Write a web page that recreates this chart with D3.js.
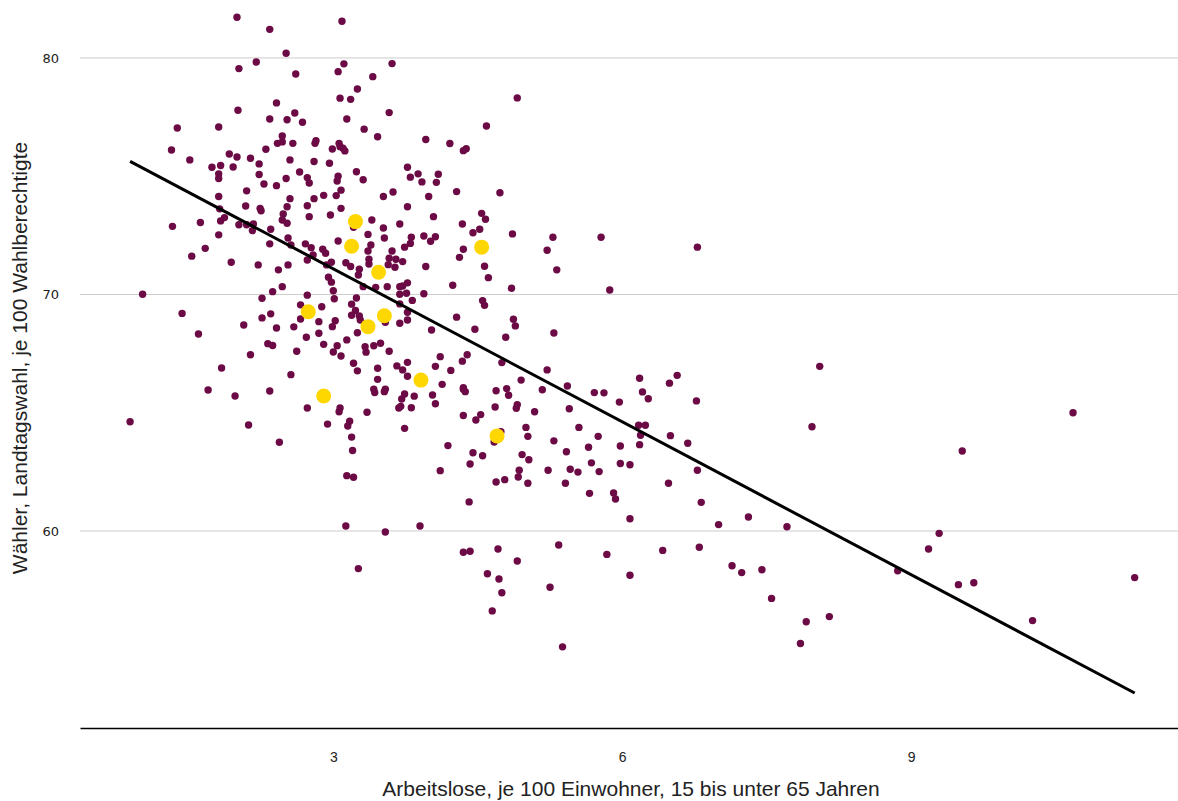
<!DOCTYPE html>
<html><head><meta charset="utf-8">
<script src="https://cdn.jsdelivr.net/npm/d3@7"></script>
<style>body{margin:0;background:#fff}</style>
</head><body>
<svg id="chart" width="1178" height="801"></svg>
<script>
const xTicks = [3, 6, 9];
const yTicks = [60, 70, 80];
const xTitle = "Arbeitslose, je 100 Einwohner, 15 bis unter 65 Jahren";
const yTitle = "Wähler, Landtagswahl, je 100 Wahlberechtigte";

// Arbeitslose je 100 Einwohner (x) for each municipality
const unemployment = [
2.00,2.34,2.51,2.20,2.02,2.61,2.41,2.01,2.60,2.34,
2.52,2.68,1.38,1.81,2.47,2.42,2.47,2.58,1.32,2.30,
1.92,2.00,2.14,1.51,2.55,2.23,1.74,1.83,1.96,2.65,
1.81,1.81,2.23,2.51,2.73,2.75,2.28,2.41,2.10,1.81,
2.55,3.09,3.11,3.61,3.05,3.41,3.25,3.07,3.18,3.58,
3.14,4.59,3.32,3.46,3.96,2.82,2.81,4.21,3.06,3.07,
2.99,3.10,3.12,4.35,4.38,2.80,2.96,3.77,3.88,4.09,
3.24,3.05,3.04,3.31,3.80,3.92,4.07,3.08,2.90,3.03,
2.80,3.52,3.62,3.99,4.28,4.73,4.91,2.09,2.24,2.25,
2.52,2.73,2.48,2.75,1.82,1.33,1.62,1.83,1.87,2.02,
2.10,2.17,2.16,2.35,2.47,2.52,1.81,2.53,2.34,2.56,
2.71,1.67,1.53,2.73,1.94,2.22,2.53,2.43,2.47,2.37,
1.02,2.26,2.73,2.66,1.43,2.35,2.26,2.66,2.07,2.41,
2.59,1.60,2.72,2.32,2.37,2.62,2.14,1.84,2.56,1.70,
2.34,3.08,3.77,2.97,3.40,3.69,4.04,4.34,4.54,4.58,
4.45,4.52,3.52,3.21,3.36,3.53,3.81,3.94,4.06,4.01,
3.05,2.77,3.39,3.36,3.80,3.74,2.89,2.92,2.79,3.61,
3.58,3.65,3.72,4.35,4.31,2.98,2.93,3.13,3.18,3.37,
3.37,3.57,3.64,3.96,3.27,3.26,4.57,4.61,2.95,2.98,
3.77,3.72,4.24,3.31,3.44,3.56,3.69,3.00,3.01,3.69,
3.76,3.94,3.82,3.24,3.19,2.88,3.23,3.69,3.77,4.55,
4.57,3.19,3.27,3.28,4.28,3.54,3.77,3.69,2.85,3.02,
2.99,4.02,4.47,2.85,3.25,3.14,2.90,3.04,3.33,3.42,
3.49,3.34,3.00,3.08,3.58,4.11,4.39,4.34,3.21,3.25,
3.46,3.66,3.77,3.72,4.06,4.22,3.46,3.77,4.13,4.35,
3.42,3.54,2.73,3.07,3.06,2.94,3.17,3.15,3.19,3.20,
3.14,3.21,3.35,3.43,3.53,3.74,3.71,3.70,3.68,3.81,
3.84,4.03,4.06,4.35,4.37,4.69,4.68,4.35,4.48,4.53,
3.74,4.19,4.45,4.55,4.42,4.11,4.67,4.69,4.41,3.13,
3.54,3.90,4.35,4.42,4.71,3.26,4.60,4.72,1.98,0.89,
2.12,2.44,4.86,5.28,5.78,6.78,5.22,5.32,4.85,5.87,
4.87,4.89,4.79,5.29,4.75,5.22,4.95,4.80,4.82,5.17,
5.43,5.71,5.81,5.97,6.18,6.49,6.57,6.21,6.27,6.77,
4.91,4.90,5.09,5.45,6.17,6.24,5.00,5.55,4.74,5.02,
5.29,5.42,5.65,5.75,5.98,6.19,6.18,6.50,6.68,4.96,
5.03,4.93,4.92,4.78,5.02,5.23,5.46,5.54,5.68,5.76,
5.98,6.08,5.41,5.66,5.91,5.93,6.08,6.48,6.78,6.82,
5.34,4.91,5.84,6.42,6.80,6.08,4.75,5.25,4.65,5.38,
8.05,7.97,10.68,9.53,7.00,7.31,7.71,9.29,9.18,7.14,
7.24,7.45,7.55,8.86,9.49,9.65,11.32,7.91,8.15,7.85,
10.26
];

// Wähler je 100 Wahlberechtigte (y), same order
const turnout = [
81.72,81.21,80.20,79.83,79.55,79.32,78.10,77.79,77.67,77.42,
77.39,77.28,77.04,77.08,76.70,76.39,76.45,76.39,76.11,76.14,
75.94,75.81,75.76,75.69,75.69,75.52,75.38,75.45,75.39,75.18,
75.10,74.90,75.07,74.90,74.94,74.71,74.67,74.60,74.38,74.14,
74.05,81.55,79.75,79.76,79.42,79.21,78.69,78.30,78.25,77.69,
77.42,77.12,76.99,76.67,76.55,76.50,76.39,76.38,76.39,76.25,
76.15,76.18,76.07,76.08,76.16,75.62,75.55,75.38,75.10,75.08,
75.19,75.00,74.80,74.85,74.96,74.76,74.74,74.41,74.19,74.18,
74.05,74.14,74.33,74.14,74.35,74.30,78.31,73.74,73.64,73.54,
73.71,73.75,73.40,73.29,73.62,72.88,73.04,73.11,73.25,72.95,
72.95,72.98,72.70,72.76,73.15,73.01,72.52,72.39,72.14,72.09,
72.14,71.95,71.62,71.46,71.36,71.25,71.25,71.04,70.33,70.12,
70.01,69.84,69.97,69.56,69.20,69.18,69.01,68.96,68.71,68.58,
68.63,68.33,68.19,67.92,67.84,67.60,67.45,66.89,66.61,65.96,
65.92,73.64,73.71,73.36,73.15,72.98,73.29,72.98,73.43,73.18,
72.61,72.76,72.81,72.84,72.54,72.39,72.42,72.47,72.44,72.25,
72.26,71.98,72.09,71.84,72.16,72.00,71.91,71.74,71.67,71.84,
71.53,71.49,71.39,71.91,71.57,71.36,71.25,71.34,71.18,71.49,
71.29,71.26,71.15,71.18,71.07,70.82,71.19,70.71,70.73,70.52,
70.49,70.36,70.39,70.33,70.30,70.33,70.33,70.16,69.82,70.01,
70.05,70.03,69.75,69.85,69.59,69.48,69.32,69.60,69.25,69.74,
69.54,69.12,69.09,68.92,69.04,68.82,68.92,68.78,68.85,68.89,
68.64,68.50,68.53,68.36,68.38,68.08,67.89,67.83,67.79,67.83,
67.94,67.56,67.57,67.40,67.60,67.37,67.45,67.18,67.09,66.77,
66.88,66.98,67.13,66.81,66.96,66.79,66.41,66.54,66.20,66.06,
65.99,65.99,65.20,65.20,65.04,64.52,64.64,64.44,63.97,63.40,
62.34,62.27,65.02,65.85,65.89,65.79,65.58,65.27,65.20,65.21,
65.70,65.75,65.38,65.99,65.89,65.93,65.24,64.88,64.69,64.92,
64.34,63.61,63.31,63.18,62.83,62.55,63.76,62.07,61.23,60.21,
59.96,60.21,59.10,59.14,59.24,58.41,58.19,57.97,65.71,64.62,
64.48,63.75,72.56,72.42,72.42,72.00,71.87,71.04,70.26,70.19,
68.95,68.67,68.19,68.37,67.12,66.81,66.38,66.02,65.74,65.97,
66.13,65.85,65.84,65.45,66.46,66.25,66.58,65.88,65.59,65.50,
65.34,65.19,65.04,65.17,64.47,64.47,64.38,64.38,64.20,64.00,
63.81,63.35,63.54,64.00,63.59,64.05,63.65,64.03,63.71,63.23,
63.01,62.57,62.28,62.17,62.02,62.57,62.61,62.49,62.88,62.51,
62.85,62.80,62.02,61.59,61.61,61.35,60.52,62.02,62.57,61.21,
59.41,58.73,59.01,59.18,59.31,58.13,57.39,57.62,56.62,55.10,
66.96,64.41,65.00,63.38,60.27,60.59,60.18,59.90,59.24,58.53,
58.24,58.36,57.15,58.32,57.73,57.81,58.03,56.16,56.38,55.24,
56.21
];

// highlighted municipalities
const highlightUnemployment = [3.23,3.19,3.47,2.74,3.53,3.36,3.91,2.90,4.54,4.70];
const highlightTurnout      = [73.08,72.04,70.94,69.27,69.10,68.64,66.38,65.71,72.00,64.02];

// regression line end points
const trendX = [0.89, 11.32];
const trendY = [75.63, 53.15];

const svg = d3.select("#chart");
const x = d3.scaleLinear().domain([0.37, 11.77]).range([80, 1178]);
const y = d3.scaleLinear().domain([51.67, 82.45]).range([728, 0]);

// gridlines
svg.append("g").selectAll("line").data(yTicks).join("line")
  .attr("x1", 80).attr("x2", 1178)
  .attr("y1", d => y(d)).attr("y2", d => y(d))
  .attr("stroke", "#cccccc").attr("stroke-width", 1);

// y tick labels
const yAxis = svg.append("g").attr("transform", "translate(80,0)")
  .call(d3.axisLeft(y).tickValues(yTicks).tickSize(0).tickPadding(21).tickFormat(d3.format("d")));
yAxis.select(".domain").remove();
yAxis.selectAll("text").attr("font-family", "'DejaVu Sans', sans-serif").attr("font-size", 13).attr("fill", "#222");

// x axis
const xAxis = svg.append("g").attr("transform", "translate(0,728)")
  .call(d3.axisBottom(x).tickValues(xTicks).tickSize(0).tickSizeOuter(0).tickPadding(24).tickFormat(d3.format("d")));
xAxis.select(".domain").attr("stroke", "#000").attr("stroke-width", 1.5);
xAxis.selectAll("text").attr("font-family", "'Liberation Sans', Arial, sans-serif").attr("font-size", 14).attr("fill", "#222");

// points
svg.append("g").selectAll("circle").data(unemployment.map((u, i) => [u, turnout[i]])).join("circle")
  .attr("cx", d => x(d[0])).attr("cy", d => y(d[1])).attr("r", 3.7)
  .attr("fill", "#6b0a45");

// regression line
svg.append("path")
  .datum(trendX.map((v, i) => [v, trendY[i]]))
  .attr("d", d3.line().x(d => x(d[0])).y(d => y(d[1])))
  .attr("stroke", "#000").attr("stroke-width", 3).attr("fill", "none");

// highlighted points
svg.append("g").selectAll("circle").data(highlightUnemployment.map((u, i) => [u, highlightTurnout[i]])).join("circle")
  .attr("cx", d => x(d[0])).attr("cy", d => y(d[1])).attr("r", 7.5)
  .attr("fill", "#ffd700");

// titles
svg.append("text").attr("x", 631).attr("y", 796)
  .attr("text-anchor", "middle")
  .attr("font-family", "'Liberation Sans', Arial, sans-serif").attr("font-size", 21).attr("fill", "#222")
  .text(xTitle);
svg.append("text").attr("transform", "translate(27,358) rotate(-90)")
  .attr("text-anchor", "middle")
  .attr("font-family", "'Liberation Sans', Arial, sans-serif").attr("font-size", 21).attr("fill", "#222")
  .text(yTitle);
</script>
</body></html>
